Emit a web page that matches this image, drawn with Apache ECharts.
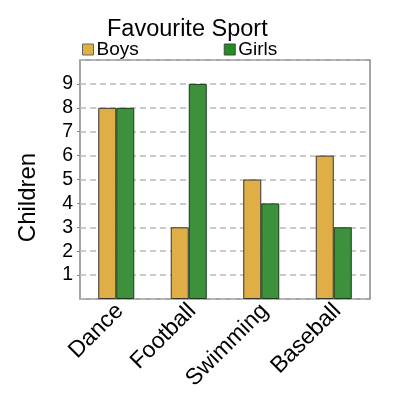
<!DOCTYPE html>
<html>
<head>
<meta charset="utf-8">
<script src="https://cdn.jsdelivr.net/npm/echarts@6/dist/echarts.min.js"></script>
<style>
  html, body { margin: 0; padding: 0; background: #fff; }
  #chart { width: 400px; height: 400px; }
</style>
</head>
<body>
<div id="chart"></div>
<script>
// data
var sports = ['Dance', 'Football', 'Swimming', 'Baseball'];
var boys = [8, 3, 5, 6];
var girls = [8, 9, 4, 3];
var yTicks = [0, 10, 1]; // min, max, interval

var chart = echarts.init(document.getElementById('chart'));
var font = 'Liberation Sans, Arial, sans-serif';

var option = {
    animation: false,
    backgroundColor: '#fff',
    title: {
        text: 'Favourite Sport',
        left: 102,
        top: 13,
        textStyle: { fontFamily: font, fontSize: 23.5, fontWeight: 'normal', color: '#000' }
    },
    legend: {
        top: 35,
        left: 77,
        itemGap: 85,
        itemWidth: 11,
        itemHeight: 11,
        icon: 'rect',
        textStyle: { fontFamily: font, fontSize: 19, color: '#000', padding: [0, 0, 0, -2] },
        data: [
            { name: 'Boys', itemStyle: { color: '#e0b040', borderColor: '#666', borderWidth: 1 } },
            { name: 'Girls', itemStyle: { color: '#1f8f1f', borderColor: '#444', borderWidth: 1 } }
        ]
    },
    grid: {
        left: 80,
        right: 30,
        top: 60,
        bottom: 101,
        show: true,
        borderColor: '#888',
        borderWidth: 1.5
    },
    xAxis: {
        type: 'category',
        data: sports,
        axisLine: { show: false },
        axisTick: { show: false },
        axisLabel: {
            rotate: 45,
            interval: 0,
            margin: 12,
            padding: [0, -5, 0, 0],
            fontFamily: font,
            fontSize: 23,
            color: '#000'
        }
    },
    yAxis: {
        type: 'value',
        name: 'Children',
        nameLocation: 'middle',
        nameGap: 40,
        nameTextStyle: { fontFamily: font, fontSize: 24, color: '#000', padding: [0, 36, 0, 0] },
        min: yTicks[0],
        max: yTicks[1],
        interval: yTicks[2],
        axisLine: { show: false },
        axisTick: { show: true, length: 3, lineStyle: { color: '#888' } },
        axisLabel: {
            showMinLabel: false,
            showMaxLabel: false,
            margin: 7,
            fontFamily: font,
            fontSize: 19.5,
            color: '#000'
        },
        splitLine: { lineStyle: { color: '#bbb', type: [6, 4], width: 1.5 } }
    },
    series: [
        {
            name: 'Boys',
            type: 'bar',
            data: boys,
            barWidth: 18,
            barGap: '0%',
            itemStyle: { color: '#dfae47', borderColor: '#333', borderWidth: 1 }
        },
        {
            name: 'Girls',
            type: 'bar',
            data: girls,
            barWidth: 18,
            barGap: '0%',
            itemStyle: { color: '#3d913d', borderColor: '#1a3a1a', borderWidth: 1 }
        }
    ]
};

chart.setOption(option);
</script>
</body>
</html>
